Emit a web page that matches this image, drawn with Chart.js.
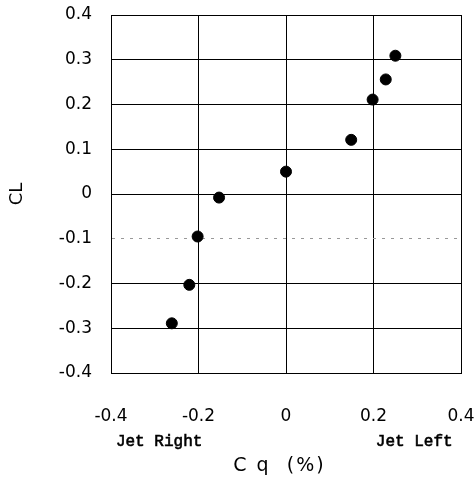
<!DOCTYPE html>
<html>
<head>
<meta charset="utf-8">
<script src="https://cdn.jsdelivr.net/npm/chart.js@4/dist/chart.umd.min.js"></script>
<style>
html,body{margin:0;padding:0;background:#fff;}
#wrap{width:476px;height:480px;}
</style>
</head>
<body>
<div id="wrap"><canvas id="c" width="476" height="480"></canvas></div>
<script>
const cq = [0.25, 0.228, 0.198, 0.149, 0.0, -0.153, -0.202, -0.221, -0.261];
const cl = [0.309, 0.256, 0.211, 0.121, 0.05, -0.008, -0.095, -0.203, -0.289];
const xTitle = 'C q  (%)';
const yTitle = 'CL';
const sideLabels = [{text: 'Jet Right', at: -0.29}, {text: 'Jet Left', at: 0.293}];

const pts = cq.map((v, i) => ({x: v, y: cl[i]}));

const sidePlugin = {
  id: 'side',
  afterDraw(chart) {
    const ctx = chart.ctx, xs = chart.scales.x, a = chart.chartArea;
    ctx.save();
    ctx.fillStyle = '#000';
    ctx.strokeStyle = '#000';
    ctx.lineWidth = 0.6;
    ctx.font = '16px "Liberation Mono"';
    ctx.textAlign = 'center';
    ctx.textBaseline = 'middle';
    sideLabels.forEach(s => {
      const px = xs.getPixelForValue(s.at), py = a.bottom + 69;
      ctx.fillText(s.text, px, py);
      ctx.strokeText(s.text, px, py);
    });
    ctx.font = '19px "DejaVu Sans"';
    ctx.letterSpacing = '2px';
    ctx.fillText(xTitle, xs.getPixelForValue(-0.015), a.bottom + 93);
    ctx.restore();
  }
};

new Chart(document.getElementById('c'), {
  type: 'scatter',
  data: {datasets: [{data: pts, backgroundColor: '#000', borderColor: '#000', pointRadius: 5.5, pointHoverRadius: 5.5}]},
  options: {
    responsive: false,
    animation: false,
    layout: {padding: {top: 15, right: 15, left: 0, bottom: 0}},
    plugins: {legend: {display: false}, tooltip: {enabled: false}},
    scales: {
      x: {
        type: 'linear', min: -0.4, max: 0.4,
        afterFit(s) { s.height = 107; s.paddingLeft = 0; s.paddingRight = 0; },
        ticks: {stepSize: 0.2, color: '#000', padding: 33, font: {family: 'DejaVu Sans', size: 17},
          callback: v => String(Math.round(v * 10) / 10)},
        grid: {color: '#000', lineWidth: 1, drawTicks: false},
        border: {color: '#000'}
      },
      y: {
        type: 'linear', min: -0.4, max: 0.4,
        afterFit(s) { s.width = 111; s.paddingTop = 0; s.paddingBottom = 0; },
        ticks: {stepSize: 0.1, color: '#000', padding: 19, font: {family: 'DejaVu Sans', size: 17},
          callback: v => String(Math.round(v * 10) / 10)},
        grid: {
          color: c => (c.tick && Math.abs(c.tick.value + 0.1) < 1e-6) ? '#999' : '#000',
          lineWidth: 1, drawTicks: false
        },
        border: {color: '#000', dash: c => (c.tick && Math.abs(c.tick.value + 0.1) < 1e-6) ? [3, 6] : []},
        title: {display: true, text: yTitle, color: '#000', font: {family: 'DejaVu Sans', size: 18}, padding: {top: 7, bottom: 0}}
      }
    }
  },
  plugins: [sidePlugin]
});
</script>
</body>
</html>
